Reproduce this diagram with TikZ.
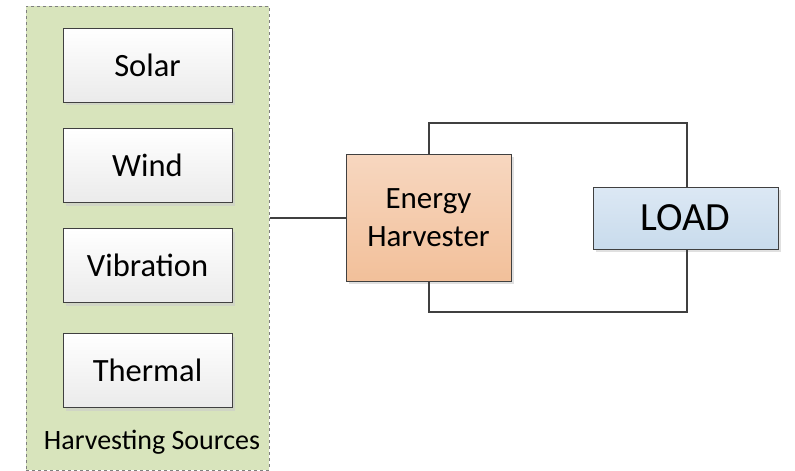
\documentclass[tikz,border=0pt]{standalone}
\usepackage{fontspec}
\setmainfont{Carlito}
\usetikzlibrary{shadows}
\definecolor{grpfill}{HTML}{D8E4BC}
\definecolor{grpline}{HTML}{7F7F7F}
\definecolor{wire}{HTML}{404040}
\definecolor{ehtop}{HTML}{F7D7C0}
\definecolor{ehbot}{HTML}{F2C09A}
\definecolor{ldtop}{HTML}{DCE8F4}
\definecolor{ldbot}{HTML}{C8DBEC}
\tikzset{
  srcbox/.style={draw=wire, line width=1pt, top color=white, bottom color=black!8,
    minimum width=169pt, minimum height=74pt, inner sep=0pt,
    font=\fontsize{32.5}{36}\selectfont,
    drop shadow={shadow xshift=3pt, shadow yshift=-3pt, fill=black!20, opacity=0.6}},
  group/.style={draw=grpline, dashed, line width=1pt, fill=grpfill,
    minimum width=243pt, minimum height=464pt, inner sep=0pt},
  ehbox/.style={draw=wire, line width=1pt, top color=ehtop, bottom color=ehbot,
    minimum width=165pt, minimum height=127pt, inner sep=0pt, align=center,
    font=\fontsize{31}{38}\selectfont,
    drop shadow={shadow xshift=3pt, shadow yshift=-3pt, fill=black!20, opacity=0.6}},
  loadbox/.style={draw=wire, line width=1pt, top color=ldtop, bottom color=ldbot,
    minimum width=185pt, minimum height=62pt, inner sep=0pt,
    font=\fontsize{40}{44}\selectfont,
    drop shadow={shadow xshift=3pt, shadow yshift=-3pt, fill=black!20, opacity=0.6}},
  wireline/.style={draw=wire, line width=2pt},
  grplabel/.style={font=\fontsize{28}{32}\selectfont, inner sep=0pt}
}
\begin{document}
\begin{tikzpicture}[x=1pt,y=-1pt]
\useasboundingbox (0,0) rectangle (795,471);
\node[group] (grp) at (147.5,238) {};
\node[srcbox] (solar) at (147.5,65) {Solar};
\node[srcbox] (wind) at (147.5,165.5) {Wind};
\node[srcbox] (vib) at (147.5,265.5) {Vibration};
\node[srcbox] (therm) at (147.5,370.5) {Thermal};
\node[grplabel] (glabel) at (152,442) {Harvesting Sources};
\node[ehbox] (eh) at (428.5,217.5) {Energy\\Harvester};
\node[loadbox] (load) at (685.5,218) {LOAD};
\coordinate (tl) at (428.5,123);
\coordinate (tr) at (686.5,123);
\coordinate (bl) at (428.5,312);
\coordinate (br) at (686.5,312);
\draw[wireline] (grp.east |- eh.west) -- (eh.west);
\draw[wireline] (eh.north) -- (tl) -- (tr) -- (tr |- load.north);
\draw[wireline] (eh.south) -- (bl) -- (br) -- (br |- load.south);
\end{tikzpicture}
\end{document}
